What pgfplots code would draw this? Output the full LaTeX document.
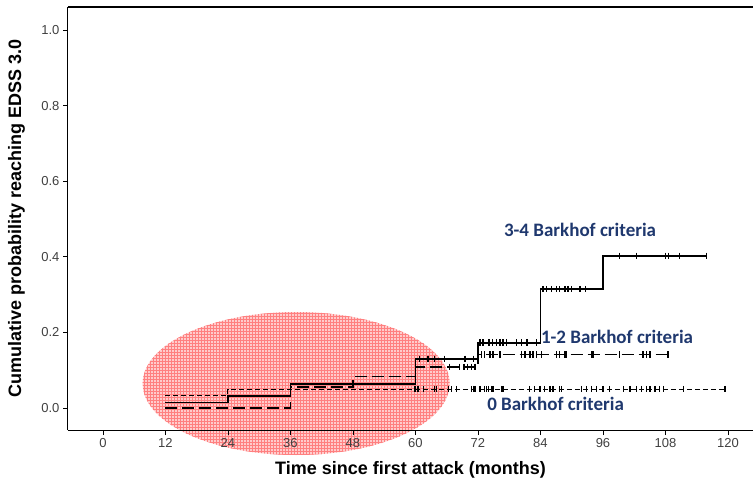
\documentclass[border=0pt]{standalone}
\usepackage{pgfplots}
\pgfplotsset{compat=1.18}
\usepackage{fontspec}
\setmainfont{Liberation Sans}
\newfontfamily\calibri{Carlito}
\usetikzlibrary{patterns}
\definecolor{navy}{RGB}{31,56,110}
\begin{document}
\begin{tikzpicture}
\useasboundingbox (-68pt,-63pt) rectangle (685pt,430pt);
\begin{axis}[
  at={(0,0)}, anchor=south west,
  scale only axis, width=685pt, height=423pt,
  xmin=-6.7, xmax=124.8, ymin=-0.058, ymax=1.061,
  axis x line*=bottom, axis y line*=left,
  axis line style={line width=1pt, black},
  xtick={0,12,...,120}, ytick={0,0.2,...,1.0},
  tick align=outside, major tick length=5pt,
  tick style={black, line width=0.8pt},
  yticklabel style={/pgf/number format/.cd, fixed, fixed zerofill, precision=1},
  /pgf/number format/assume math mode=true,
  ticklabel style={font=\fontsize{13}{15}\selectfont, text=black!75},
  xlabel={Time since first attack (months)},
  ylabel={Cumulative probability reaching EDSS 3.0},
  label style={font=\bfseries\fontsize{18}{21}\selectfont},
  x label style={at={(axis description cs:0.5,-0.0946)}, anchor=center},
  y label style={at={(axis description cs:-0.075,0.5)}, anchor=center},
  clip=false,
  axis on top,
]
\draw[line width=1.2pt, black] (rel axis cs:0,1) -- (rel axis cs:1,1);

% highlighted region
\fill[red!20] (axis cs:37.1,0.065) ellipse [x radius=153.5pt, y radius=71.5pt];
\fill[pattern=grid, pattern color=red!50] (axis cs:37.1,0.065) ellipse [x radius=153.5pt, y radius=71.5pt];

% 0 Barkhof criteria (short dashes)
\addplot[const plot, black, line width=1.1pt, dash pattern=on 5pt off 3pt] coordinates {
 (12,0.033) (24,0.05) (119.7,0.05)};
% 1-2 Barkhof criteria (long dashes)
\addplot[const plot, black, line width=1.4pt, dash pattern=on 12pt off 5pt] coordinates {
 (12,0) (36,0.056) (48,0.083) (60,0.109) (72,0.142) (108.8,0.142)};
% 3-4 Barkhof criteria (solid)
\addplot[const plot, black, line width=1.8pt] coordinates {
 (12,0.015) (24,0.033) (36,0.063) (60,0.13) (72,0.173) (84,0.315) (96,0.403) (115.9,0.403)};

% censor marks
\addplot[only marks, mark=|, mark size=3.2pt, mark options={line width=1.4pt, black}] coordinates {
 (59.9,0.05) (60.5,0.05) (61.5,0.05) (63.7,0.05) (64.0,0.05) (66.3,0.05) (66.9,0.05) (67.9,0.05)
 (70.8,0.05) (71.1,0.05) (71.4,0.05) (72.4,0.05) (73.3,0.05) (73.6,0.05) (74.0,0.05) (74.6,0.05)
 (74.9,0.05) (76.5,0.05) (76.8,0.05) (81.9,0.05) (82.9,0.05) (83.9,0.05) (84.8,0.05) (85.8,0.05)
 (86.4,0.05) (87.7,0.05) (88.0,0.05) (91.9,0.05) (92.8,0.05) (93.8,0.05) (94.8,0.05) (96.0,0.05)
 (97.3,0.05) (99.9,0.05) (101.2,0.05) (102.4,0.05) (103.4,0.05) (104.4,0.05) (105.0,0.05) (106.0,0.05)
 (106.9,0.05) (107.6,0.05) (111.4,0.05) (119.4,0.05)};
\addplot[only marks, mark=|, mark size=3.2pt, mark options={line width=1.4pt, black}] coordinates {
 (66.5,0.109) (68.5,0.109) (69.3,0.109) (70.0,0.109) (70.8,0.109) (71.4,0.109)
 (72.7,0.142) (73.3,0.142) (74.3,0.142) (74.9,0.142) (76.2,0.142) (80.4,0.142) (81.0,0.142)
 (82.0,0.142) (82.6,0.142) (83.2,0.142) (84.2,0.142) (87.1,0.142) (87.7,0.142) (88.7,0.142)
 (89.0,0.142) (93.8,0.142) (94.1,0.142) (99.2,0.142) (103.7,0.142) (104.4,0.142) (105.0,0.142)
 (108.5,0.142)};
\addplot[only marks, mark=|, mark size=3.2pt, mark options={line width=1.4pt, black}] coordinates {
 (60.8,0.13) (62.4,0.13) (63.7,0.13) (65.6,0.13) (69.5,0.13) (71.1,0.13)
 (72.4,0.173) (73.0,0.173) (74.1,0.173) (74.8,0.173) (75.6,0.173) (76.2,0.173) (76.8,0.173)
 (77.5,0.173) (79.4,0.173) (80.4,0.173) (81.4,0.173) (83.2,0.173)
 (84.5,0.315) (85.2,0.315) (86.1,0.315) (87.1,0.315) (87.7,0.315) (88.7,0.315) (89.3,0.315)
 (90.0,0.315) (91.6,0.315) (92.7,0.315)
 (99.2,0.403) (102.4,0.403) (108.0,0.403) (108.6,0.403) (110.7,0.403) (115.9,0.403)};

\node[font=\calibri\bfseries\fontsize{19}{22}\selectfont, text=navy] at (axis cs:91.6,0.471) {3-4 Barkhof criteria};
\node[font=\calibri\bfseries\fontsize{19}{22}\selectfont, text=navy] at (axis cs:98.7,0.188) {1-2 Barkhof criteria};
\node[font=\calibri\bfseries\fontsize{19}{22}\selectfont, text=navy] at (axis cs:86.9,0.011) {0 Barkhof criteria};
\end{axis}
\end{tikzpicture}
\end{document}
